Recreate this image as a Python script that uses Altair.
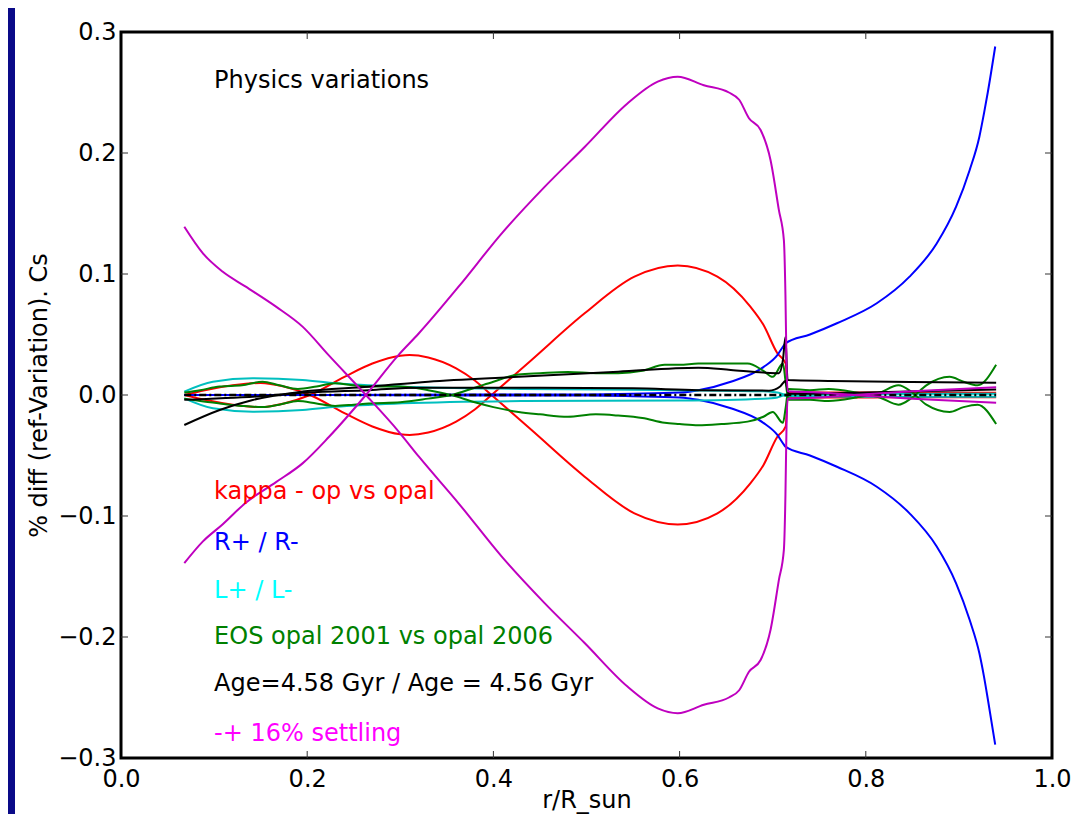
import altair as alt
import pandas as pd

# ---------------- data ----------------
red_x = [0.068, 0.09, 0.12, 0.15, 0.175, 0.203, 0.24, 0.27, 0.30, 0.31, 0.33, 0.36, 0.38, 0.398,
         0.441, 0.498, 0.5515, 0.598, 0.6406, 0.676, 0.69, 0.705, 0.714, 0.716, 0.75, 0.80, 0.85, 0.90, 0.94]
red_a = [0.0, -0.004, -0.008, -0.010, -0.007, 0.0, 0.015, 0.026, 0.0325, 0.033, 0.031, 0.022, 0.012, 0.0,
         -0.029, -0.0675, -0.0978, -0.107, -0.0978, -0.073, -0.058, -0.0345, -0.026, -0.002, -0.002, -0.002, -0.0018, -0.0018, -0.0018]
red_b = [0.0, 0.004, 0.008, 0.010, 0.007, 0.0, -0.015, -0.026, -0.0325, -0.033, -0.031, -0.022, -0.012, 0.0,
         0.029, 0.0675, 0.0978, 0.107, 0.0978, 0.073, 0.058, 0.0345, 0.026, 0.002, 0.002, 0.002, 0.0018, 0.0018, 0.0018]

blue_x = [0.068, 0.2, 0.4, 0.5, 0.55, 0.60, 0.62, 0.655, 0.69, 0.705, 0.712, 0.7137, 0.74, 0.769,
          0.8118, 0.847, 0.876, 0.897, 0.9116, 0.922, 0.927, 0.931, 0.939]
blue_a = [0.0, 0.0, 0.0005, 0.0005, 0.001, 0.002, 0.004, 0.011, 0.023, 0.033, 0.041, 0.0427, 0.050, 0.0593,
          0.0758, 0.0978, 0.125, 0.1556, 0.186, 0.2135, 0.233, 0.250, 0.288]
blue_b = [0.0, 0.0, -0.0005, -0.0005, -0.001, -0.002, -0.004, -0.011, -0.023, -0.033, -0.041, -0.0427, -0.050, -0.0593,
          -0.0758, -0.0978, -0.125, -0.1556, -0.186, -0.2135, -0.233, -0.251, -0.289]

cyan_x = [0.068, 0.0987, 0.1415, 0.195, 0.2307, 0.302, 0.43, 0.6, 0.69, 0.705, 0.712, 0.716, 0.80, 0.94]
cyan_a = [0.0028, 0.011, 0.0138, 0.0124, 0.0097, 0.0069, 0.005, 0.004, 0.003, 0.002, 0.0005, 0.0, 0.0008, 0.001]
cyan_b = [-0.0028, -0.011, -0.0138, -0.0124, -0.0097, -0.0069, -0.005, -0.0045, -0.003, -0.002, -0.0005, -0.001, -0.0015, -0.0015]

green_x = [0.068, 0.085, 0.106, 0.13, 0.152, 0.17, 0.19, 0.21, 0.23, 0.25, 0.266, 0.30, 0.33, 0.355, 0.38, 0.40,
           0.427, 0.45, 0.48, 0.51, 0.534, 0.56, 0.584, 0.60, 0.62, 0.645, 0.673, 0.69, 0.70, 0.711, 0.714, 0.717,
           0.74, 0.76, 0.79, 0.815, 0.835, 0.85, 0.865, 0.89, 0.905, 0.92, 0.94]
green_a = [0.002, 0.004, 0.007, 0.008, 0.011, 0.008, 0.005, 0.007, 0.0097, 0.008, 0.007, 0.007, 0.004, 0.0, -0.006, -0.010,
           -0.014, -0.016, -0.018, -0.016, -0.017, -0.019, -0.023, -0.024, -0.025, -0.024, -0.022, -0.018, -0.014, -0.023, -0.010, 0.005,
           0.004, 0.005, 0.002, -0.002, -0.008, -0.002, 0.008, 0.015, 0.011, 0.008, 0.025]
green_b = [-0.003, -0.005, -0.007, -0.009, -0.010, -0.008, -0.005, -0.007, -0.009, -0.008, -0.007, -0.006, -0.003, 0.0, 0.006, 0.011,
           0.017, 0.018, 0.019, 0.018, 0.018, 0.020, 0.025, 0.025, 0.026, 0.026, 0.026, 0.020, 0.015, 0.026, 0.010, -0.004,
           -0.004, -0.005, -0.002, 0.002, 0.008, 0.002, -0.008, -0.014, -0.010, -0.008, -0.024]

black1_x = [0.068, 0.106, 0.1415, 0.195, 0.266, 0.33, 0.427, 0.534, 0.62, 0.655, 0.69, 0.7066, 0.711, 0.7137,
            0.716, 0.762, 0.85, 0.94]
black1_y = [-0.0248, -0.0124, -0.0041, 0.0028, 0.0069, 0.011, 0.015, 0.0193, 0.0226, 0.0207, 0.0185, 0.018, 0.029, 0.048,
            0.0124, 0.0116, 0.0108, 0.0102]
black2_x = [0.068, 0.15, 0.2, 0.266, 0.32, 0.45, 0.55, 0.62, 0.696, 0.708, 0.7137, 0.717, 0.80, 0.94]
black2_y = [-0.004, -0.001, 0.002, 0.004, 0.006, 0.006, 0.0055, 0.004, 0.0036, 0.007, 0.0116, 0.001, 0.002, 0.0045]

zero_x = [0.068, 0.94]
zero_y = [0.0, 0.0]

mag_x = [0.068, 0.088, 0.109, 0.134, 0.1665, 0.195, 0.2235, 0.263, 0.298, 0.32, 0.3626, 0.409, 0.455, 0.498, 0.544,
         0.5765, 0.598, 0.626, 0.653, 0.664, 0.6745, 0.687, 0.6977, 0.7066, 0.712, 0.7137, 0.7148, 0.716, 0.75, 0.787, 0.85, 0.94]
mag_a = [0.139, 0.117, 0.102, 0.0895, 0.073, 0.0565, 0.0325, 0.0, -0.030, -0.051, -0.0895, -0.1336, -0.172, -0.205, -0.241,
         -0.259, -0.263, -0.256, -0.250, -0.244, -0.2287, -0.219, -0.194, -0.153, -0.128, -0.082, -0.028, -0.003, -0.002, 0.0, 0.003, 0.0065]
mag_b = [-0.139, -0.121, -0.107, -0.089, -0.072, -0.0565, -0.0345, 0.0, 0.033, 0.051, 0.0895, 0.1336, 0.172, 0.205, 0.241,
         0.259, 0.263, 0.256, 0.250, 0.244, 0.2287, 0.219, 0.194, 0.153, 0.128, 0.082, 0.028, 0.003, 0.002, 0.0, -0.003, -0.0065]

label_text = ["Physics variations", "kappa - op vs opal", "R+ / R-", "\u00a0L+ / L-",
              "EOS opal 2001 vs opal 2006", "\u00a0Age=4.58 Gyr / Age = 4.56 Gyr", "-+ 16% settling"]
label_x = [0.1, 0.1, 0.1, 0.1, 0.1, 0.1, 0.1]
label_y = [0.254, -0.0862, -0.128, -0.168, -0.206, -0.245, -0.2857]
label_color = ["#000000", "#ff0000", "#0000ff", "#00ffff", "#008000", "#000000", "#ff00ff"]

x_ticks = [0.0, 0.2, 0.4, 0.6, 0.8, 1.0]
y_ticks = [-0.3, -0.2, -0.1, 0.0, 0.1, 0.2, 0.3]
x_inner_ticks = [0.2, 0.4, 0.6, 0.8]
y_inner_ticks = [-0.2, -0.1, 0.0, 0.1, 0.2]

# ---------------- chart ----------------
W, H = 931, 726
FONT = "DejaVu Sans"

x_axis = alt.Axis(values=x_ticks, format=".1f", ticks=False, domain=False, grid=False,
                  labelFontSize=24, labelFont=FONT, labelColor="black", labelPadding=9,
                  labelFlush=False, labelOverlap=False,
                  title="r/R_sun", titleFontSize=24, titleFont=FONT, titleFontWeight="normal",
                  titleColor="black", titleX=W / 2, titleY=49, titleBaseline="alphabetic")
y_axis = alt.Axis(values=y_ticks, format=".1f", ticks=False, domain=False, grid=False,
                  labelFontSize=24, labelFont=FONT, labelColor="black", labelPadding=5,
                  labelFlush=False, labelOverlap=False,
                  title="% diff (ref-Variation). Cs", titleFontSize=24, titleFont=FONT,
                  titleFontWeight="normal", titleColor="black", titleAngle=270,
                  titleX=-75, titleY=H / 2, titleBaseline="alphabetic", titleAlign="center")

xs = alt.Scale(domain=[0, 1], nice=False, zero=False)
ys = alt.Scale(domain=[-0.3, 0.3], nice=False, zero=False)


def X(f="x"):
    return alt.X(f"{f}:Q", scale=xs, axis=x_axis)


def Y(f="y"):
    return alt.Y(f"{f}:Q", scale=ys, axis=y_axis)


def curves(pairs):
    frames = []
    for name, xv, yv in pairs:
        frames.append(pd.DataFrame({"x": xv, "y": yv, "curve": name}))
    return pd.concat(frames, ignore_index=True)


def line_layer(pairs, color, dash=None, width=2):
    kw = dict(color=color, strokeWidth=width, interpolate="monotone")
    if dash:
        kw["strokeDash"] = dash
    return alt.Chart(curves(pairs)).mark_line(**kw).encode(x=X(), y=Y(), detail="curve:N")


layers = []

# navy slide strip at the very left
layers.append(alt.Chart(pd.DataFrame({"k": [0]})).mark_rect(color="#0a0a88").encode(
    x=alt.value(-113), x2=alt.value(-106), y=alt.value(-24), y2=alt.value(H + 56)))

layers.append(line_layer([("ra", red_x, red_a), ("rb", red_x, red_b)], "#ff0000"))
layers.append(line_layer([("ba", blue_x, blue_a), ("bb", blue_x, blue_b)], "#0000ff"))
layers.append(line_layer([("ca", cyan_x, cyan_a), ("cb", cyan_x, cyan_b)], "#00bfbf"))
layers.append(line_layer([("ga", green_x, green_a), ("gb", green_x, green_b)], "#008000"))
layers.append(line_layer([("k1", black1_x, black1_y), ("k2", black2_x, black2_y)], "#000000"))
layers.append(line_layer([("z", zero_x, zero_y)], "#000000", dash=[7, 3, 2, 3], width=2.5))
layers.append(line_layer([("ma", mag_x, mag_a), ("mb", mag_x, mag_b)], "#bf00bf"))

# inward ticks
tx = pd.DataFrame({"x": x_inner_ticks})
ty = pd.DataFrame({"y": y_inner_ticks})
tick_style = dict(color="#333333", strokeWidth=1)
layers.append(alt.Chart(tx).mark_rule(**tick_style).encode(x=X(), y=alt.value(H - 7), y2=alt.value(H)))
layers.append(alt.Chart(tx).mark_rule(**tick_style).encode(x=X(), y=alt.value(0), y2=alt.value(7)))
layers.append(alt.Chart(ty).mark_rule(**tick_style).encode(y=Y(), x=alt.value(0), x2=alt.value(7)))
layers.append(alt.Chart(ty).mark_rule(**tick_style).encode(y=Y(), x=alt.value(W - 7), x2=alt.value(W)))

# annotations
labels = pd.DataFrame({"x": label_x, "y": label_y, "label": label_text, "color": label_color})
layers.append(alt.Chart(labels).mark_text(align="left", baseline="alphabetic", fontSize=24, font=FONT).encode(
    x=X(), y=Y(), text="label:N", color=alt.Color("color:N", scale=None)))

chart = alt.layer(*layers).properties(
    width=W, height=H,
    autosize=alt.AutoSizeParams(type="none"),
    padding={"left": 113, "top": 24, "right": 20, "bottom": 56},
    background="white",
).configure_view(stroke="black", strokeWidth=3)

chart.save("out.html", embed_options={"renderer": "svg", "actions": False})
